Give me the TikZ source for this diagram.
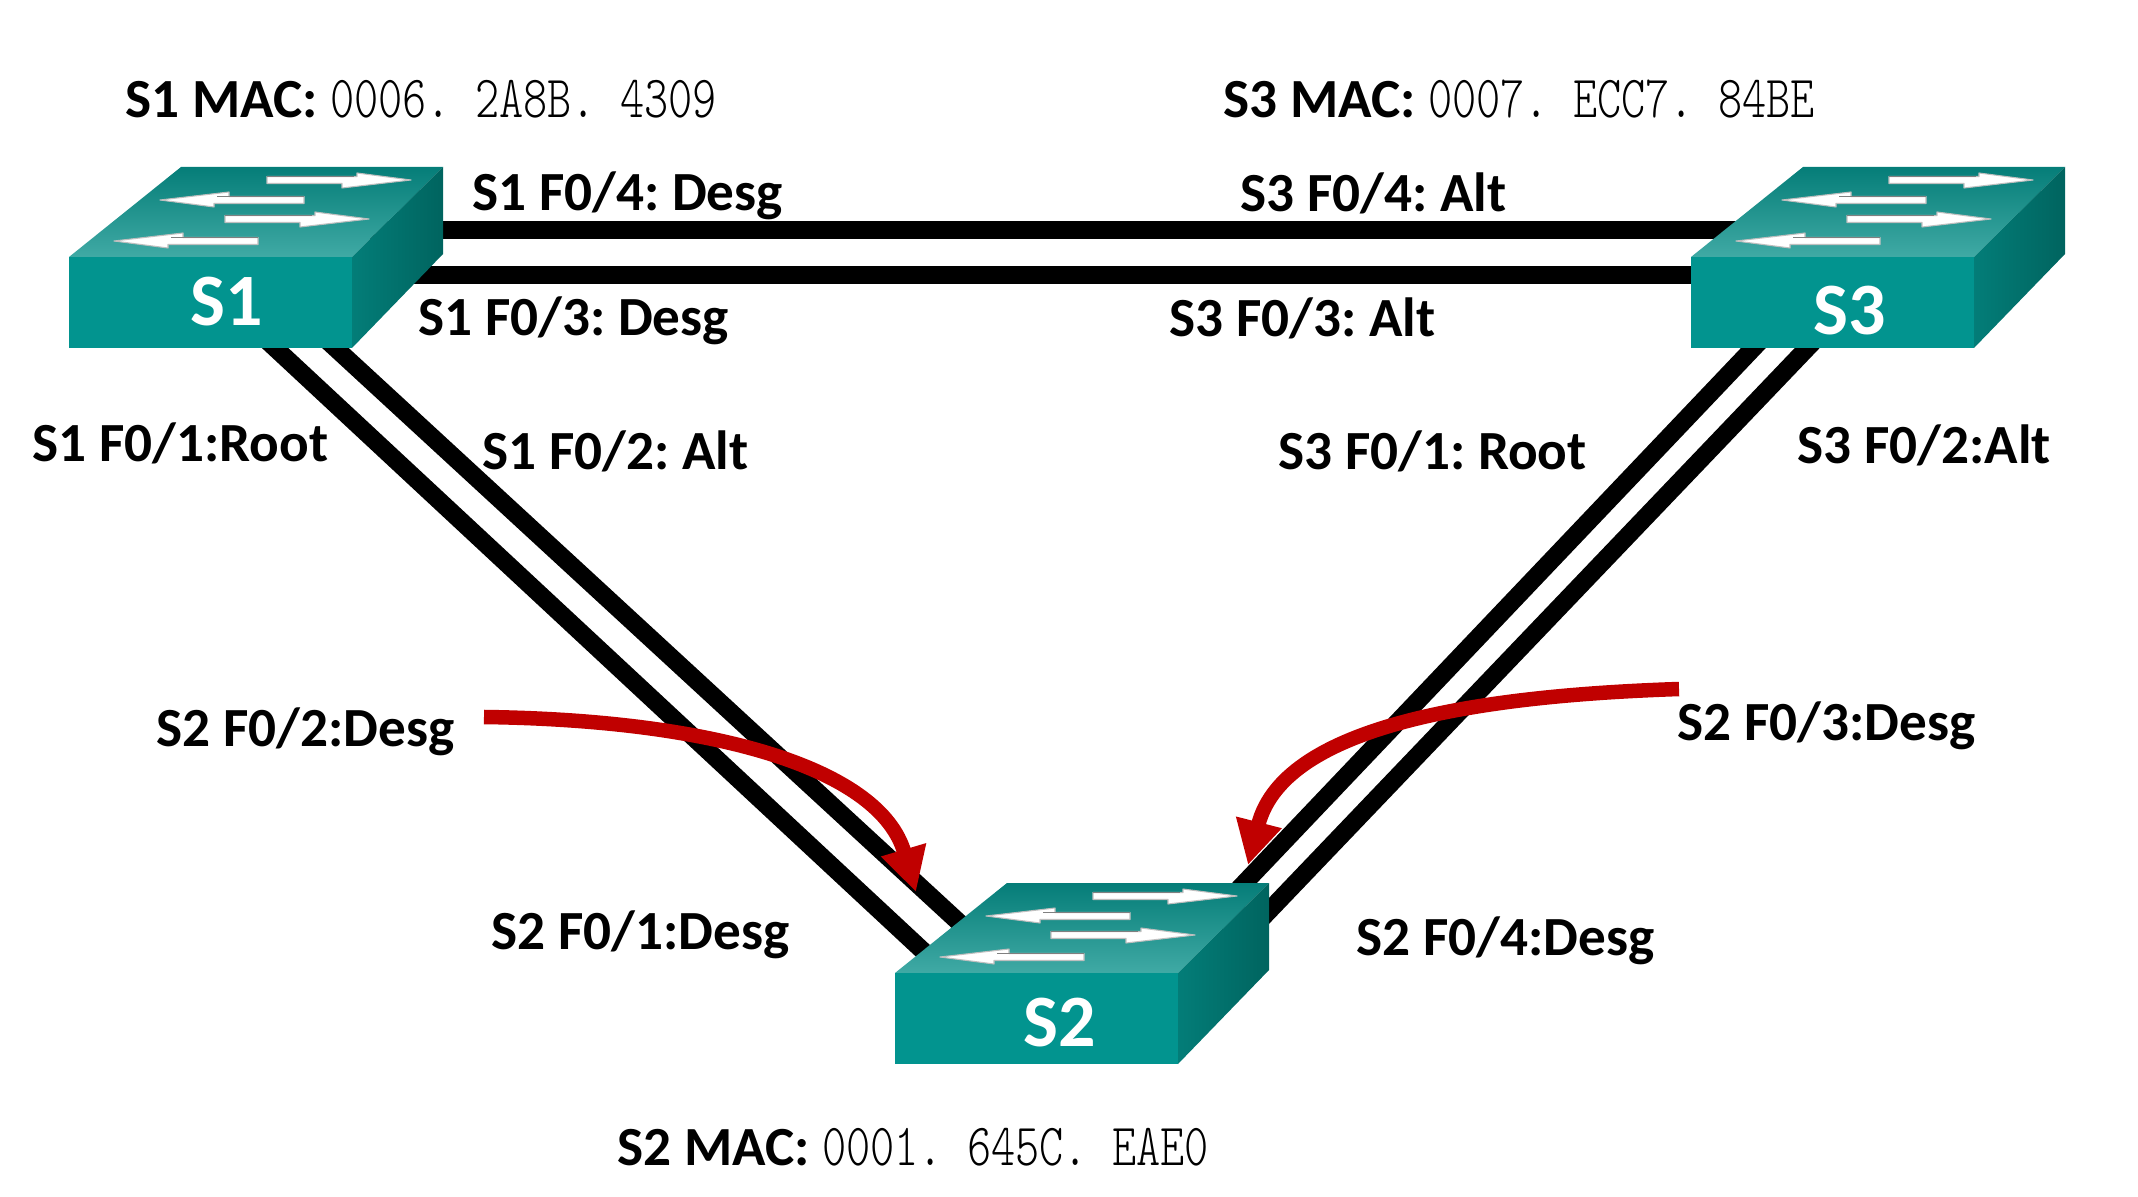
\documentclass[tikz,border=0pt]{standalone}
\usepackage{fontspec}
\usepackage{xcolor}
\usepackage{tikz}
\usetikzlibrary{arrows.meta, positioning, calc}
\newfontfamily\lblfont{Carlito}
\newfontfamily\macfont{Latin Modern Mono Light}[FakeStretch=0.77]
\definecolor{swfront}{RGB}{2,148,143}
\definecolor{swtopback}{RGB}{5,125,120}
\definecolor{swtopfront}{RGB}{64,170,165}
\definecolor{swsideleft}{RGB}{3,125,120}
\definecolor{swsideright}{RGB}{0,100,95}
\definecolor{hintred}{RGB}{192,0,0}
\frenchspacing
\tikzset{
  portlbl/.style={anchor=base west,inner sep=0pt,font=\lblfont\bfseries\fontsize{15.7}{18}\selectfont},
  maclbl/.style={portlbl},
  swname/.style={inner sep=0pt,text=white,font=\lblfont\bfseries\fontsize{21}{24}\selectfont},
  swfrontbox/.style={anchor=north west,inner sep=0pt,outer sep=0pt,minimum width=2.83cm,minimum height=0.91cm,fill=swfront},
  swflow/.style={fill=white,draw=black!25,line width=0.3pt,line join=round},
  swedge/.style={draw=black!50,line width=0.45pt},
  link/.style={line width=0.18cm},
  hint/.style={draw=hintred,line width=0.145cm,-{Triangle[length=0.44cm,width=0.44cm]}}
}
\newcommand{\macno}[1]{{\macfont\mdseries\fontsize{17}{20}\selectfont #1}}
% switch: name, x, y of front top left corner, label, label position
\newcommand{\switchbox}[6]{
  \begin{scope}[shift={(#2,#3)}]
    \shade[top color=swtopback,bottom color=swtopfront] (0,0) -- (112,-90) -- (374,-90) -- (283,0) -- cycle;
    \shade[left color=swsideleft,right color=swsideright] (283,0) -- (374,-90) -- (374,-3) -- (283,91) -- cycle;
    \node[swfrontbox] (#1) at (0,0) {};
    \node[swname] (#1name) at (#5,#6) {#4};
    \foreach \ax/\ay/\ad in {270/-77/1, 163/-57/-1, 228/-38/1, 117/-16/-1}{
      \draw[swflow,shift={(\ax,\ay)},xscale=\ad,yscale=\ad] (-72,-3.5) -- (18,-3.5) -- (18,-7) -- (72,0) -- (3,8) -- (3,3.5) -- (-72,3.5) -- cycle;
      \draw[swedge] (\ax-\ad*72,\ay-3.5) -- (\ax+\ad*15,\ay-3.5);
    }
  \end{scope}
}
\begin{document}
\begin{tikzpicture}[x=0.01cm,y=-0.01cm]
\useasboundingbox (0,0) rectangle (2138,1197);

% Port ends
\coordinate (s1f4) at (340,230);
\coordinate (s3f4) at (1800,230);
\coordinate (s1f3) at (340,275);
\coordinate (s3f3) at (1800,275);
\coordinate (s1f1) at (245,320);
\coordinate (s2f1) at (950,976);
\coordinate (s1f2) at (305,320);
\coordinate (s2f2) at (990,951);
\coordinate (s3f1) at (1780,320);
\coordinate (s2f3) at (1195,935);
\coordinate (s3f2) at (1834,320);
\coordinate (s2f4) at (1222,960);

% Links
\draw[link] (s1f4) -- (s3f4);
\draw[link] (s1f3) -- (s3f3);
\draw[link] (s1f1) -- (s2f1);
\draw[link] (s1f2) -- (s2f2);
\draw[link] (s3f1) -- (s2f3);
\draw[link] (s3f2) -- (s2f4);

% Switches
\switchbox{s1}{69}{257}{S1}{158}{45}
\switchbox{s3}{1691}{257}{S3}{159}{54}
\switchbox{s2}{895}{973}{S2}{165}{50}

% MAC addresses
\node[maclbl] (s1mac) at (125,118) {S1 MAC: \macno{0006. 2A8B. 4309}};
\node[maclbl] (s3mac) at (1223,118) {S3 MAC: \macno{0007. ECC7. 84BE}};
\node[maclbl] (s2mac) at (617,1165) {S2 MAC: \macno{0001. 645C. EAE0}};

% Port roles
\node[portlbl] (p14) at (472,211) {S1 F0/4: Desg};
\node[portlbl] (p34) at (1240,212) {S3 F0/4: Alt};
\node[portlbl] (p13) at (418,336) {S1 F0/3: Desg};
\node[portlbl] (p33) at (1169,337) {S3 F0/3: Alt};
\node[portlbl] (p11) at (32,462) {S1 F0/1:Root};
\node[portlbl] (p12) at (482,469) {S1 F0/2: Alt};
\node[portlbl] (p31) at (1278,469) {S3 F0/1: Root};
\node[portlbl] (p32) at (1797,464) {S3 F0/2:Alt};
\node[portlbl] (p22) at (156,746) {S2 F0/2:Desg};
\node[portlbl] (p23) at (1677,740) {S2 F0/3:Desg};
\node[portlbl] (p21) at (491,949) {S2 F0/1:Desg};
\node[portlbl] (p24) at (1356,955) {S2 F0/4:Desg};

% Red pointers
\coordinate (h22a) at (484,717);
\coordinate (h22b) at (916,892);
\coordinate (h23a) at (1679,689);
\coordinate (h23b) at (1248,865);
\draw[hint] (h22a) .. controls (720,720) and (880,770) .. (h22b);
\draw[hint] (h23a) .. controls (1500,695) and (1285,720) .. (h23b);
\end{tikzpicture}
\end{document}
